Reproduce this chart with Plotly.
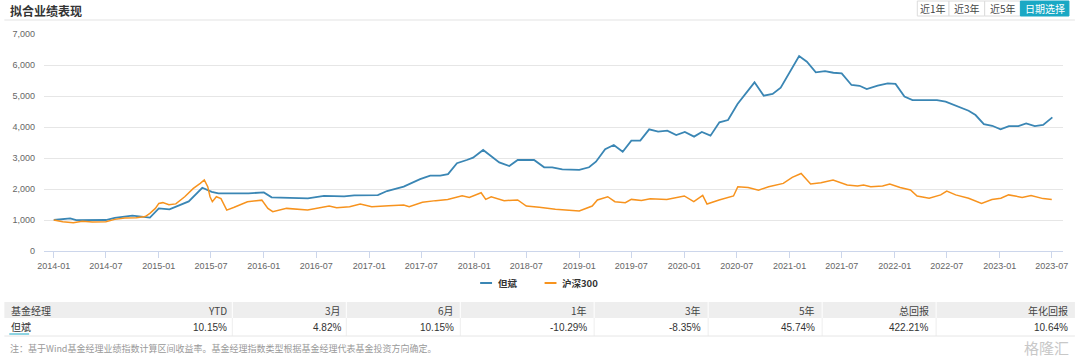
import plotly.graph_objects as go

# ---------------- data ----------------
fund_name = "但斌"
index_name = "沪深300"

fund_dates = [
    "2014-01-01", "2014-02-27", "2014-03-20", "2014-07-01", "2014-08-01", "2014-10-01", "2014-12-01",
    "2015-01-01", "2015-02-07", "2015-03-16", "2015-04-15", "2015-06-01", "2015-07-04", "2015-07-27",
    "2015-11-09", "2016-01-01", "2016-01-28", "2016-06-02", "2016-07-28", "2016-10-06", "2016-11-10",
    "2017-01-31", "2017-03-04", "2017-05-01", "2017-06-27", "2017-08-01", "2017-09-05", "2017-10-02",
    "2017-11-02", "2017-12-06", "2017-12-28", "2018-02-01", "2018-03-29", "2018-05-03", "2018-06-01",
    "2018-07-28", "2018-09-01", "2018-09-29", "2018-11-03", "2019-01-01", "2019-02-04", "2019-02-28",
    "2019-04-01", "2019-05-01", "2019-06-01", "2019-07-01", "2019-08-01", "2019-09-01", "2019-10-02",
    "2019-11-03", "2019-12-04", "2020-01-03", "2020-02-04", "2020-03-02", "2020-04-01", "2020-05-02",
    "2020-06-01", "2020-07-04", "2020-08-02", "2020-09-01", "2020-10-03", "2020-11-03", "2020-12-01",
    "2021-01-03", "2021-02-03", "2021-03-02", "2021-04-02", "2021-05-04", "2021-06-02", "2021-07-01",
    "2021-08-04", "2021-09-01", "2021-09-26", "2021-11-03", "2021-12-08", "2022-01-04", "2022-02-04",
    "2022-03-04", "2022-05-28", "2022-06-27", "2022-08-01", "2022-09-15", "2022-10-09", "2022-11-07",
    "2022-12-06", "2023-01-04", "2023-02-02", "2023-03-07", "2023-04-03", "2023-05-03", "2023-06-01",
    "2023-07-03",
]
fund_values = [
    1000, 1055, 995, 1000, 1070, 1140, 1080,
    1375, 1345, 1490, 1600, 2040, 1910, 1860,
    1860, 1890, 1730, 1700, 1780, 1765, 1795,
    1805, 1935, 2075, 2320, 2430, 2430, 2480,
    2830, 2935, 3010, 3260, 2860, 2740, 2935,
    2935, 2700, 2700, 2635, 2615, 2700, 2880,
    3280, 3420, 3200, 3560, 3560, 3925, 3850,
    3880, 3740, 3840, 3690, 3840, 3720, 4150,
    4225, 4740, 5085, 5440, 5010, 5065, 5270,
    5785, 6290, 6105, 5765, 5805, 5750, 5730,
    5355, 5330, 5225, 5335, 5410, 5390, 4980,
    4870, 4870, 4815, 4690, 4525, 4385, 4095,
    4040, 3925, 4030, 4030, 4115, 4030, 4065,
    4310,
]

index_dates = [
    "2014-01-01", "2014-02-01", "2014-03-10", "2014-04-10", "2014-05-15", "2014-06-15", "2014-07-01",
    "2014-08-01", "2014-09-05", "2014-10-15", "2014-11-15", "2014-12-01", "2014-12-20", "2015-01-01",
    "2015-01-15", "2015-02-05", "2015-03-01", "2015-04-01", "2015-05-01", "2015-05-25", "2015-06-08",
    "2015-06-20", "2015-06-28", "2015-07-06", "2015-07-20", "2015-08-05", "2015-08-25", "2015-09-20",
    "2015-11-05", "2015-12-25", "2016-01-15", "2016-02-01", "2016-03-20", "2016-06-01", "2016-07-25",
    "2016-08-15", "2016-09-10", "2016-10-25", "2016-12-01", "2017-01-10", "2017-03-10", "2017-05-01",
    "2017-05-20", "2017-07-05", "2017-08-20", "2017-10-01", "2017-11-20", "2017-12-15", "2018-01-25",
    "2018-02-10", "2018-03-01", "2018-04-15", "2018-06-01", "2018-07-01", "2018-08-15", "2018-10-10",
    "2019-01-01", "2019-02-15", "2019-03-05", "2019-04-10", "2019-05-05", "2019-06-10", "2019-07-01",
    "2019-08-05", "2019-09-05", "2019-11-01", "2020-01-01", "2020-02-03", "2020-03-05", "2020-03-20",
    "2020-05-01", "2020-06-20", "2020-07-05", "2020-08-10", "2020-09-15", "2020-10-20", "2020-12-10",
    "2021-01-10", "2021-02-10", "2021-03-15", "2021-04-20", "2021-06-01", "2021-07-20", "2021-08-25",
    "2021-09-15", "2021-10-10", "2021-11-20", "2021-12-15", "2022-01-20", "2022-02-25", "2022-03-20",
    "2022-05-01", "2022-06-10", "2022-07-01", "2022-08-01", "2022-09-15", "2022-10-30", "2022-12-05",
    "2023-01-05", "2023-02-01", "2023-03-20", "2023-04-20", "2023-06-01", "2023-07-01",
]
index_values = [
    1000, 945, 915, 960, 935, 940, 945,
    1020, 1065, 1075, 1110, 1215, 1375, 1535,
    1560, 1490, 1520, 1750, 2020, 2180, 2290,
    2075, 1750, 1590, 1750, 1690, 1320, 1410,
    1590, 1640, 1375, 1270, 1375, 1320, 1410,
    1450, 1395, 1430, 1515, 1430, 1460, 1485,
    1430, 1570, 1625, 1665, 1785, 1730, 1880,
    1665, 1750, 1625, 1645, 1450, 1410, 1345,
    1290, 1450, 1645, 1750, 1590, 1560, 1665,
    1630, 1685, 1665, 1775, 1590, 1795, 1515,
    1645, 1775, 2075, 2050, 1960, 2075, 2180,
    2375, 2500, 2160, 2200, 2290, 2130, 2100,
    2130, 2075, 2100, 2160, 2050, 1970, 1775,
    1700, 1810, 1935, 1810, 1700, 1535, 1660,
    1700, 1810, 1730, 1790, 1690, 1660,
]

x_tick_labels = [
    "2014-01", "2014-07", "2015-01", "2015-07", "2016-01", "2016-07", "2017-01", "2017-07",
    "2018-01", "2018-07", "2019-01", "2019-07", "2020-01", "2020-07", "2021-01", "2021-07",
    "2022-01", "2022-07", "2023-01", "2023-07",
]
y_tick_values = [0, 1000, 2000, 3000, 4000, 5000, 6000, 7000]

range_buttons = ["近1年", "近3年", "近5年", "日期选择"]

table_headers = ["基金经理", "YTD", "3月", "6月", "1年", "3年", "5年", "总回报", "年化回报"]
table_row = ["但斌", "10.15%", "4.82%", "10.15%", "-10.29%", "-8.35%", "45.74%", "422.21%", "10.64%"]

chart_title = "拟合业绩表现"
footnote = "注：基于Wind基金经理业绩指数计算区间收益率。基金经理指数类型根据基金经理代表基金投资方向确定。"

# ---------------- styling / layout ----------------
W, H = 1080, 360
L, R, T, B = 40, 1068, 34, 251
FONT = "Liberation Sans, Arial, Noto Sans CJK SC, sans-serif"
CJK = "Noto Sans CJK SC, Liberation Sans, sans-serif"
BLUE = "#3a86b4"
ORANGE = "#f7931e"
TEAL = "#1aa8c4"


def px(x):
    return (x - L) / (R - L)


def py(y):
    return (B - y) / (B - T)


fig = go.Figure()
fig.add_trace(go.Scatter(x=fund_dates, y=fund_values, mode="lines", name=fund_name,
                         line=dict(color=BLUE, width=1.8), showlegend=False, hoverinfo="skip"))
fig.add_trace(go.Scatter(x=index_dates, y=index_values, mode="lines", name=index_name,
                         line=dict(color=ORANGE, width=1.5), showlegend=False, hoverinfo="skip"))

shapes = []
ann = []

# header title + separator
ann.append(dict(text="<b>" + chart_title + "</b>", x=px(4), y=py(10), xref="paper", yref="paper",
                xanchor="left", yanchor="middle", showarrow=False,
                font=dict(family=CJK, size=12, color="#333333")))
shapes.append(dict(type="line", xref="paper", yref="paper", x0=px(0), x1=px(1080), y0=py(20), y1=py(20),
                   line=dict(color="#e3e3e3", width=1)))

# range buttons
btn_edges = [921, 953, 989, 1025, 1074]
for i, lab in enumerate(range_buttons):
    x0, x1 = btn_edges[i], btn_edges[i + 1]
    active = i == len(range_buttons) - 1
    shapes.append(dict(type="rect", xref="paper", yref="paper", x0=px(x0), x1=px(x1), y0=py(16), y1=py(1),
                       fillcolor=TEAL if active else "#ffffff",
                       line=dict(color=TEAL if active else "#dcdcdc", width=1)))
    ann.append(dict(text=lab, x=px((x0 + x1) / 2), y=py(8.5), xref="paper", yref="paper",
                    xanchor="center", yanchor="middle", showarrow=False,
                    font=dict(family=CJK, size=10, color="#ffffff" if active else "#444444")))

# manual legend
leg = [(fund_name, BLUE, 480, 496), (index_name, ORANGE, 545, 561)]
for name, col, lx, tx in leg:
    shapes.append(dict(type="line", xref="paper", yref="paper", x0=px(lx), x1=px(lx + 12),
                       y0=py(283), y1=py(283), line=dict(color=col, width=2)))
    ann.append(dict(text="<b>" + name + "</b>", x=px(tx), y=py(283), xref="paper", yref="paper",
                    xanchor="left", yanchor="middle", showarrow=False,
                    font=dict(family=CJK, size=9.5, color="#333333")))

# table
hdr_top, hdr_bot, row_bot = 302, 318, 336
shapes.append(dict(type="rect", xref="paper", yref="paper", x0=px(0), x1=px(1080), y0=py(hdr_bot), y1=py(hdr_top),
                   fillcolor="#eeeeee", line=dict(width=0)))
col_seps = [230, 345, 460, 595, 710, 825, 940]
col_right = [None, 227, 342, 456, 590, 705, 820, 935, 1075]
for s in col_seps:
    shapes.append(dict(type="line", xref="paper", yref="paper", x0=px(s), x1=px(s), y0=py(hdr_bot), y1=py(hdr_top),
                       line=dict(color="#ffffff", width=1)))
    shapes.append(dict(type="line", xref="paper", yref="paper", x0=px(s), x1=px(s), y0=py(row_bot), y1=py(hdr_bot),
                       line=dict(color="#eeeeee", width=1)))
shapes.append(dict(type="line", xref="paper", yref="paper", x0=px(0), x1=px(1080), y0=py(row_bot), y1=py(row_bot),
                   line=dict(color="#e6e6e6", width=1)))
for i, (h, v) in enumerate(zip(table_headers, table_row)):
    if i == 0:
        xa, anchor = px(5), "left"
    else:
        xa, anchor = px(col_right[i]), "right"
    ann.append(dict(text=h, x=xa, y=py(310), xref="paper", yref="paper", xanchor=anchor, yanchor="middle",
                    showarrow=False, font=dict(family=CJK, size=10, color="#444444")))
    ann.append(dict(text=v, x=xa, y=py(327), xref="paper", yref="paper", xanchor=anchor, yanchor="middle",
                    showarrow=False, font=dict(family=FONT, size=10, color="#333333")))
shapes.append(dict(type="line", xref="paper", yref="paper", x0=px(5), x1=px(25), y0=py(334), y1=py(334),
                   line=dict(color=TEAL, width=1)))
ann.append(dict(text=footnote, x=px(4), y=py(348), xref="paper", yref="paper", xanchor="left", yanchor="middle",
                showarrow=False, font=dict(family=CJK, size=9, color="#999999")))
ann.append(dict(text="格隆汇", x=px(1076), y=py(347), xref="paper", yref="paper", xanchor="right", yanchor="middle",
                showarrow=False, font=dict(family=CJK, size=15, color="#c8c8c8")))

fig.update_layout(
    width=W, height=H,
    margin=dict(l=L, r=W - R, t=T, b=H - B),
    paper_bgcolor="#ffffff", plot_bgcolor="#ffffff",
    shapes=shapes, annotations=ann,
    xaxis=dict(
        type="date", range=["2013-11-28", "2023-08-09"],
        tickvals=[t + "-01" for t in x_tick_labels], ticktext=x_tick_labels,
        showgrid=False, zeroline=False,
        showline=True, linecolor="#ccd6eb", linewidth=1,
        ticks="outside", ticklen=6, tickcolor="#ccd6eb",
        tickfont=dict(family=FONT, size=9, color="#666666"),
    ),
    yaxis=dict(
        range=[0, 7000], tickvals=y_tick_values, tickformat=",",
        showgrid=True, gridcolor="#e6e6e6", gridwidth=1, zeroline=False,
        showline=False, ticks="", ticklabelstandoff=8,
        tickfont=dict(family=FONT, size=9, color="#666666"),
    ),
    showlegend=False,
    hovermode=False,
)

# no mode bar; remove the default page margin so the figure sits at the window's top-left corner
fig.write_html("out.html", config={"displayModeBar": False},
               post_script="document.body.style.margin='0';")
